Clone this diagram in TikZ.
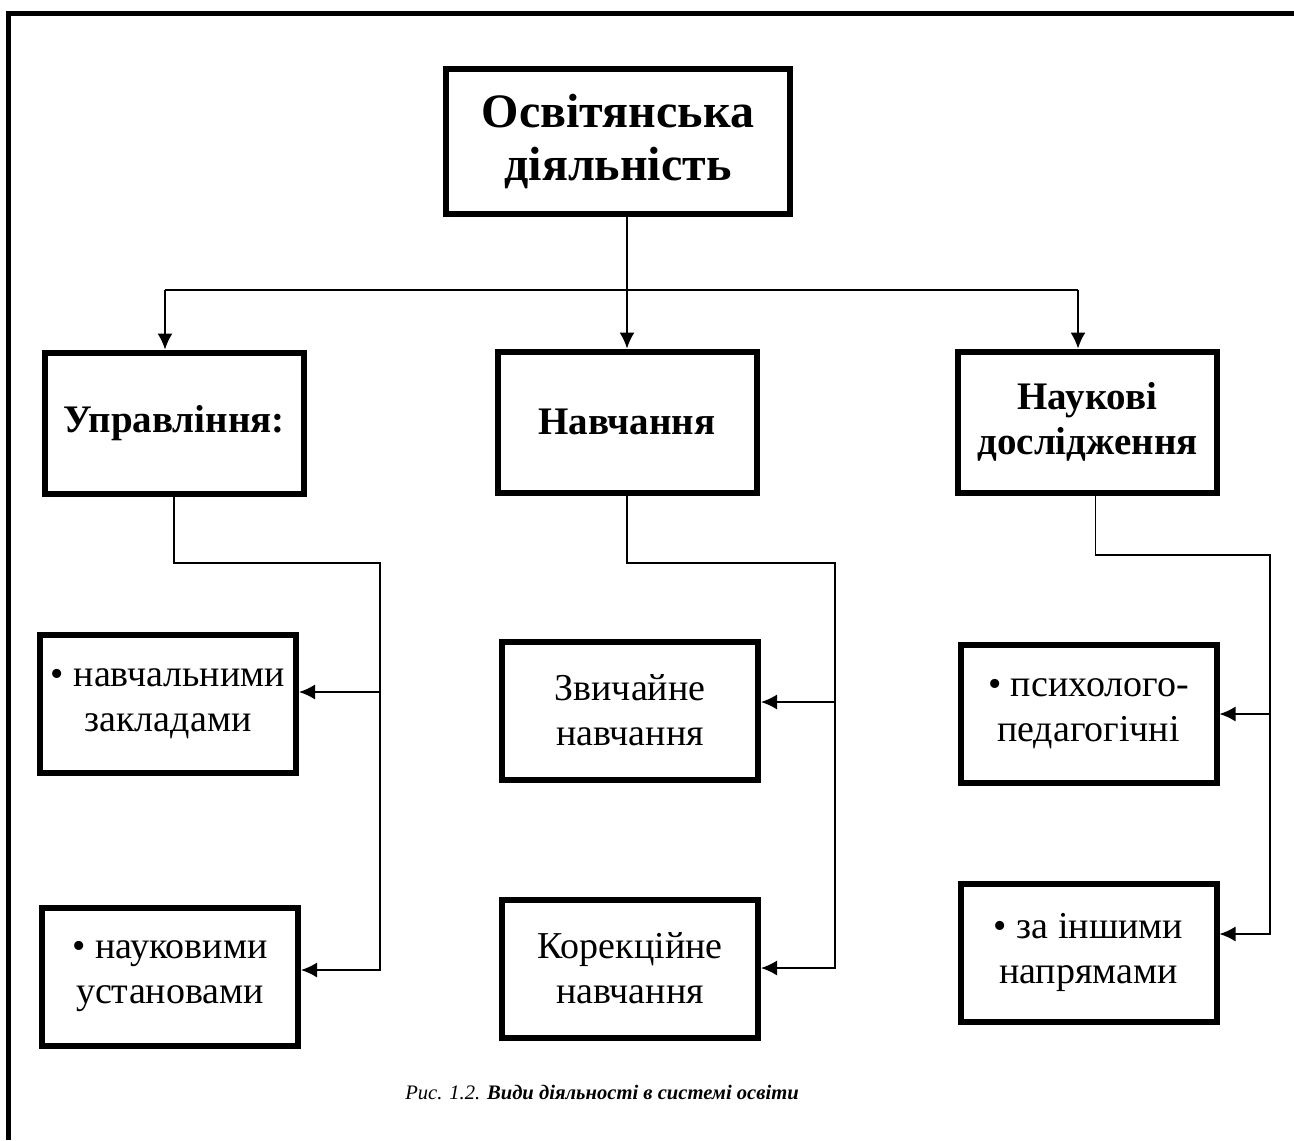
\documentclass[tikz,border=0pt]{standalone}
\usepackage{fontspec}
\setmainfont{Liberation Serif}
\usetikzlibrary{positioning,arrows.meta}
\tikzset{root/.style={draw,line width=3pt,minimum width=172pt,minimum height=72.5pt,align=center,font=\fontsize{24}{26.5}\selectfont\bfseries},
         head/.style={draw,line width=3pt,minimum width=129.5pt,minimum height=70.5pt,align=center,font=\fontsize{19.5}{22.5}\selectfont\bfseries},
         leaf/.style={draw,line width=3pt,minimum width=128pt,minimum height=69pt,align=center,font=\fontsize{19}{22.5}\selectfont},
         line/.style={line width=0.8pt}
}
\tikzstyle{arrow} = [line width=0.8pt,-{Latex[length=8pt,width=7.5pt]}]

\begin{document}
\begin{tikzpicture}[x=0.5pt,y=-0.5pt]
\useasboundingbox (0,0) rectangle (1294,1140);
\draw[line width=2.5pt] (8.5,1140) -- (8.5,13.5) -- (1294,13.5);

\node[root] (top) at (618,141.5) {Освітянська\\діяльність};
\node[head] (mgmt) at (174,423) {Управління:};
\node[head] (learn) at (627,422) {Навчання};
\node[head] (sci) at (1087.5,422) {Наукові\\дослідження};
\node[leaf,below=67.5pt of mgmt,xshift=-3pt] (mgmt1) {• навчальними\\закладами};
\node[leaf,below=64.5pt of mgmt1,xshift=1pt] (mgmt2) {• науковими\\установами};
\node[leaf,below=71.5pt of learn,xshift=1.5pt] (learn1) {Звичайне\\навчання};
\node[leaf,below=57pt of learn1] (learn2) {Корекційне\\навчання};
\node[leaf,below=73pt of sci,xshift=0.5pt] (sci1) {• психолого-\\педагогічні};
\node[leaf,below=47.5pt of sci1] (sci2) {• за іншими\\напрямами};
\node[font=\fontsize{10.3}{12}\selectfont\itshape] (cap) at (602,1092) {Рис. 1.2. \textbf{Види діяльності в системі освіти}};

\coordinate (busl) at (165,290);
\coordinate (busr) at (1078,290);
\coordinate (lb) at (380,563);
\coordinate (lk1) at (380,692);
\coordinate (lk2) at (380,970);
\coordinate (mb) at (835,563);
\coordinate (mk1) at (835,702);
\coordinate (mk2) at (835,968);
\coordinate (rb) at (1270,555);
\coordinate (rk1) at (1270,714);
\coordinate (rk2) at (1270,934);

\draw[arrow] (learn.north |- top.south) -- (learn.north);
\draw[line] (busl) -- (busr);
\draw[arrow] (busl) -- (busl |- mgmt.north);
\draw[arrow] (busr) -- (busr |- sci.north);

\draw[arrow] (mgmt.south) |- (lb) |- (mgmt2.east |- lk2);
\draw[arrow] (lk1) -- (mgmt1.east |- lk1);
\draw[arrow] (learn.south) |- (mb) |- (learn2.east |- mk2);
\draw[arrow] (mk1) -- (learn1.east |- mk1);
\draw[arrow] ([xshift=4pt]sci.south) |- (rb) |- (sci2.east |- rk2);
\draw[arrow] (rk1) -- (sci1.east |- rk1);

\end{tikzpicture}
\end{document}
